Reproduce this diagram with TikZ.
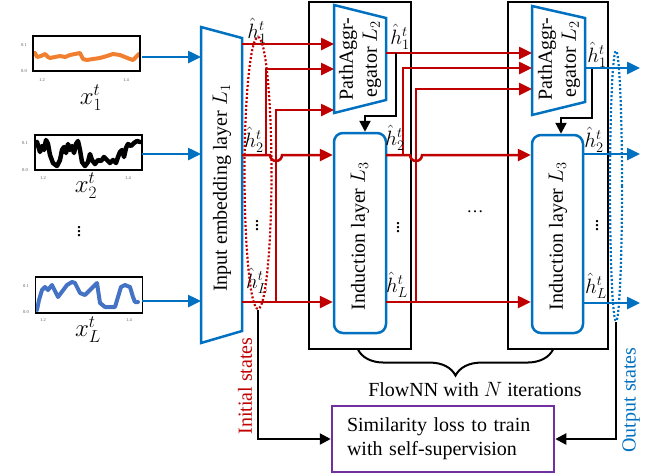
\documentclass[tikz,border=0pt]{standalone}
\usepackage{fontspec}
\setmainfont{Liberation Serif}
\usetikzlibrary{arrows.meta,shapes.geometric,decorations.pathreplacing,calc}
\definecolor{fred}{RGB}{192,0,0}
\definecolor{fblue}{RGB}{0,112,192}
\definecolor{fpurple}{RGB}{112,48,160}
\definecolor{sorange}{RGB}{240,128,48}
\definecolor{sblue}{RGB}{68,114,196}
\begin{document}
\begin{tikzpicture}[x=1pt,y=-1pt,
  big/.style={font=\fontsize{20}{24}\selectfont, inner sep=0pt},
  xlab/.style={font=\fontsize{24}{28}\selectfont, inner sep=0pt},
  ticklab/.style={font=\fontsize{4.5}{5}\selectfont, text=black!65, inner sep=0pt},
  plotframe/.style={draw=black, line width=1.6pt, inner sep=0pt, minimum width=107pt, minimum height=35pt},
  series/.style={line width=4pt, line join=round, line cap=round},
  redln/.style={draw=fred, line width=2.5pt},
  redarr/.style={redln, -{Triangle[length=13pt,width=12pt]}},
  bluearr/.style={draw=fblue, line width=2.5pt, -{Triangle[length=13pt,width=12pt]}},
  blkarr/.style={draw=black, line width=2.3pt, -{Triangle[length=11pt,width=11pt]}},
  modbox/.style={draw=black, line width=1.1pt, inner sep=0pt, minimum height=347pt},
  layer/.style={draw=fblue, line width=2.5pt},
  statering/.style={ellipse, line width=2.2pt, dash pattern=on 2pt off 2pt, inner sep=0pt},
]
\useasboundingbox (0,0) rectangle (652,475);

% ---------- input time series ----------
\draw[series, sorange] (35,53) -- (37,57) -- (41,56) -- (45,54) -- (48,57) -- (50,58) -- (55,57) -- (60,56) -- (65,57) -- (70,55) -- (75,54) -- (80,53) -- (83,59) -- (87,60) -- (93,59) -- (100,58) -- (107,56) -- (113,54) -- (120,55) -- (125,57) -- (130,59) -- (133,60) -- (136,57) -- (139,54);
\node[plotframe] (p1) at (86.5,53.5) {};
\node[ticklab] (p1y1) at (24,45) {0.1};
\node[ticklab] (p1y0) at (24,71) {0.0};
\node[ticklab] (p1x1) at (42,80) {1.2};
\node[ticklab] (p1x2) at (126,80) {1.4};
\node[xlab] (x1) at (91,98) {$x_1^t$};

\draw[series, black, line width=4.5pt] (37,142) -- (40,152) -- (42,146) -- (44,150) -- (46,140) -- (48,144) -- (50,155) -- (53,163) -- (57,166) -- (60,160) -- (62,150) -- (64,147) -- (66,153) -- (68,144) -- (70,150) -- (72,146) -- (74,153) -- (76,144) -- (78,141) -- (80,150) -- (82,162) -- (85,166) -- (88,162) -- (90,154) -- (92,160) -- (95,164) -- (98,160) -- (101,161) -- (104,157) -- (107,160) -- (110,163) -- (113,160) -- (116,163) -- (118,157) -- (120,152) -- (122,150) -- (124,157) -- (126,148) -- (128,144) -- (131,146) -- (134,143) -- (137,141) -- (140,142);
\node[plotframe] (p2) at (88.5,152.5) {};
\node[ticklab] (p2y1) at (25,143) {0.1};
\node[ticklab] (p2y0) at (25,170) {0.0};
\node[ticklab] (p2x1) at (43,178) {1.2};
\node[ticklab] (p2x2) at (128,178) {1.4};
\node[xlab] (x2) at (86,186) {$x_2^t$};

\node[big] (ldots) at (79,229) {$\vdots$};

\draw[series, sblue] (37,310) -- (39,300) -- (42,290) -- (45,287) -- (48,290) -- (52,285) -- (58,297) -- (67,285) -- (72,282) -- (75,283) -- (80,293) -- (85,295) -- (90,290) -- (97,283) -- (100,303) -- (105,307) -- (115,307) -- (118,297) -- (121,287) -- (125,285) -- (130,287) -- (133,297) -- (135,302) -- (138,302);
\node[plotframe, minimum height=36pt] (p3) at (89,295) {};
\node[ticklab] (p3y1) at (26,286) {0.1};
\node[ticklab] (p3y0) at (26,312) {0.0};
\node[ticklab] (p3x1) at (43,320) {1.2};
\node[ticklab] (p3x2) at (129,320) {1.4};
\node[xlab] (xL) at (88,330) {$x_L^t$};

% ---------- input embedding layer ----------
\coordinate (inA) at (201,27);
\coordinate (inB) at (242,38);
\coordinate (inC) at (242,331);
\coordinate (inD) at (201,343);
\draw[layer] (inA) -- (inB) -- (inC) -- (inD) -- cycle;
\node[big, rotate=90] (inlab) at (222,188) {Input embedding layer $L_1$};

\coordinate (a1) at (142,57);
\coordinate (a2) at (142,154);
\coordinate (a3) at (142,301);
\draw[bluearr] (a1) -- (a1 -| inA);
\draw[bluearr] (a2) -- (a2 -| inA);
\draw[bluearr] (a3) -- (a3 -| inA);

% ---------- FlowNN iteration blocks ----------
\node[modbox, minimum width=102pt] (m1) at (360,175.5) {};
\node[modbox, minimum width=100pt] (m2) at (558,175.5) {};

\coordinate (pa1A) at (334,5);
\coordinate (pa1B) at (386,18);
\coordinate (pa1C) at (386,100);
\coordinate (pa1D) at (334,113);
\draw[layer] (pa1A) -- (pa1B) -- (pa1C) -- (pa1D) -- cycle;
\node[big, rotate=90, align=center] (pa1) at (360,59) {PathAggr-\\egator $L_2$};

\coordinate (pa2A) at (532,6);
\coordinate (pa2B) at (585,18);
\coordinate (pa2C) at (585,102);
\coordinate (pa2D) at (532,115);
\draw[layer] (pa2A) -- (pa2B) -- (pa2C) -- (pa2D) -- cycle;
\node[big, rotate=90, align=center] (pa2) at (559,59) {PathAggr-\\egator $L_2$};

\node[layer, rounded corners=9pt, minimum width=52pt, minimum height=200pt, inner sep=0pt] (ind1) at (360,233) {};
\node[big, rotate=90] (ind1t) at (360,236) {Induction layer $L_3$};
\node[layer, rounded corners=9pt, minimum width=51pt, minimum height=198pt, inner sep=0pt] (ind2) at (557.5,234) {};
\node[big, rotate=90] (ind2t) at (558,236) {Induction layer $L_3$};

% ---------- initial states into block 1 ----------
\coordinate (h1o) at (242,44);
\coordinate (h2o) at (242,155);
\coordinate (hLo) at (242,302);
\draw[redarr] (h1o) -- (h1o -| pa1A);
\draw[redarr] (h2o) -- (270,155) arc[start angle=180, end angle=0, radius=6] -- (h2o -| ind1.west);
\draw[redarr] (266,155) -- (266,69) -- (334,69);
\draw[redarr] (hLo) -- (hLo -| ind1.west);
\draw[redarr] (276,302) -- (276,110) -- (334,110);

% ---------- block 1 into block 2 ----------
\coordinate (q1) at (386,53);
\coordinate (q2) at (386,155);
\coordinate (qL) at (386,302);
\draw[redarr] (q1) -- (q1 -| pa2A);
\coordinate (k1) at (365,116);
\draw[blkarr] (396,53) -- (396,116) -- (k1) -- (k1 |- ind1.north);
\draw[redarr] (q2) -- (410,155) arc[start angle=180, end angle=0, radius=6] -- (q2 -| ind2.west);
\draw[redarr] (403,155) -- (403,68) -- (532,68);
\draw[redarr] (qL) -- (qL -| ind2.west);
\draw[redarr] (416,302) -- (416,89) -- (532,89);

% ---------- block 2 outputs ----------
\coordinate (o1) at (585,68);
\coordinate (o2) at (583,154);
\coordinate (oL) at (583,303);
\coordinate (k2) at (561,118);
\draw[blkarr] (592,68) -- (592,118) -- (k2) -- (k2 |- ind2.north);
\draw[bluearr] (o1) -- (640,68);
\draw[bluearr] (o2) -- (640,154);
\draw[bluearr] (oL) -- (640,303);

% ---------- state labels ----------
\node[big] (l11) at (257,31) {$\hat{h}_1^t$};
\node[big] (l12) at (254,140) {$\hat{h}_2^t$};
\node[big] (l1d) at (257,223) {$\vdots$};
\node[big] (l1L) at (257,281) {$\hat{h}_L^t$};
\node[big] (l21) at (400,37) {$\hat{h}_1^t$};
\node[big] (l22) at (395,138) {$\hat{h}_2^t$};
\node[big] (l2d) at (398,225) {$\vdots$};
\node[big] (l2L) at (397,285) {$\hat{h}_L^t$};
\node[big] (l31) at (597,55) {$\hat{h}_1^t$};
\node[big] (l32) at (594,140) {$\hat{h}_2^t$};
\node[big] (l3d) at (597,223) {$\vdots$};
\node[big] (l3L) at (596,286) {$\hat{h}_L^t$};
\node[inner sep=0pt, font=\fontsize{17}{20}\selectfont] (mid) at (475,212) {…};

% ---------- state groups and loss ----------
\node[statering, draw=fred, minimum width=27pt, minimum height=272pt] (initst) at (258,173) {};
\node[statering, draw=fblue, minimum width=12pt, minimum height=270pt] (outst) at (616,186) {};

\node[big, rotate=90, text=fred] (initl) at (245,386) {Initial states};
\node[big, rotate=90, text=fblue] (outl) at (631,400) {Output states};

\node[draw=fpurple, line width=2.5pt, minimum height=66pt, text width=192pt, align=left,
      inner xsep=15pt, inner ysep=0pt, font=\fontsize{20}{24}\selectfont] (loss) at (443,439)
      {Similarity loss to train\\with self-supervision};
\draw[blkarr] (initst.south) |- (loss.west);
\draw[blkarr] (outst.south) |- (loss.east);

\draw[decorate, decoration={brace, mirror, amplitude=26pt}, line width=2pt]
  ([xshift=-2pt]m1.south) -- ([xshift=-5pt]m2.south);
\node[big] (flow) at (475,389) {FlowNN with $N$ iterations};
\end{tikzpicture}
\end{document}
